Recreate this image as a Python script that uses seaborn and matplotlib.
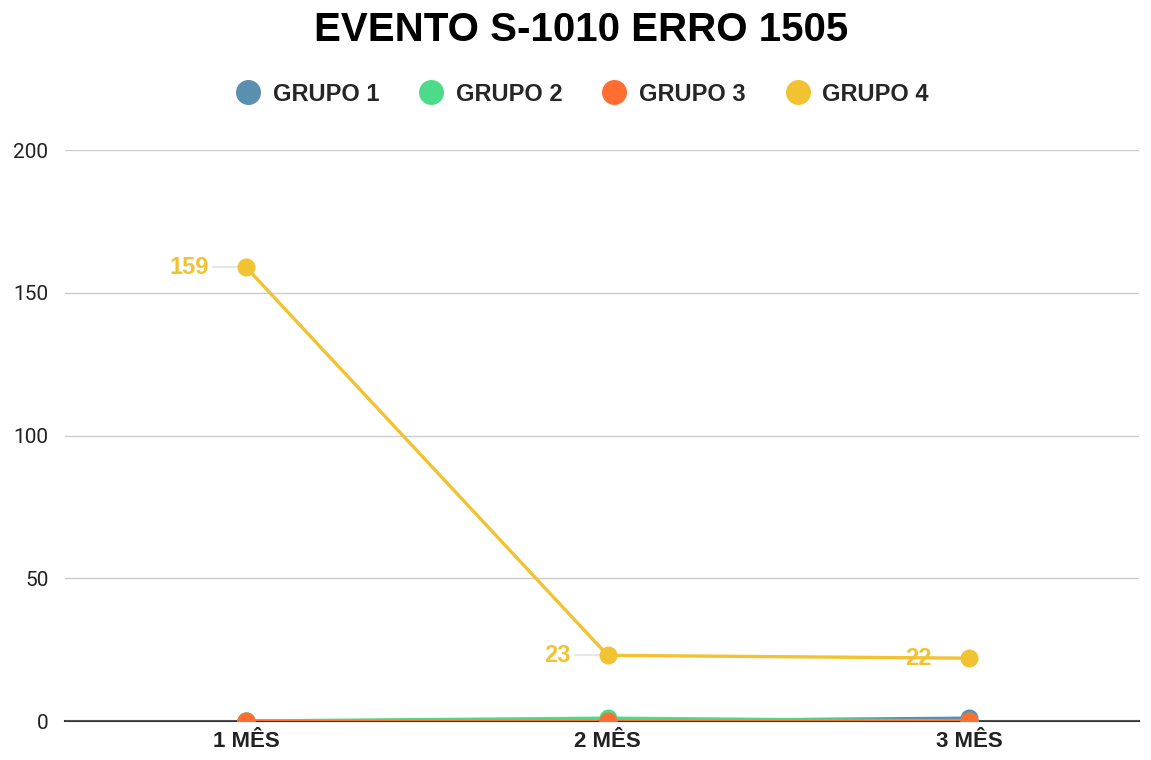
import pandas as pd
import seaborn as sns
import numpy as np
import matplotlib.pyplot as plt
from matplotlib.lines import Line2D

months = ['1 MÊS', '2 MÊS', '3 MÊS']
grupo_1 = [0, 0, 1]
grupo_2 = [0, 1, 0]
grupo_3 = [0, 0, 0]
grupo_4 = [159, 23, 22]
groups = ['GRUPO 1', 'GRUPO 2', 'GRUPO 3', 'GRUPO 4']
colors = ['#5b8fb0', '#4ddb8a', '#ff6d31', '#f1c232']

rows = []
for g, vals in zip(groups, [grupo_1, grupo_2, grupo_3, grupo_4]):
    for i, (m, v) in enumerate(zip(months, vals)):
        rows.append({'mes': m, 'pos': i, 'grupo': g, 'valor': v})
df = pd.DataFrame(rows)

sns.set_style('white')
plt.rcParams['font.family'] = ['Liberation Sans', 'DejaVu Sans']

fig = plt.figure(figsize=(11.51, 7.6), dpi=100)
ax = fig.add_axes([0.0565, 0.0513, 0.9335, 0.7513])

sns.lineplot(data=df, x='pos', y='valor', hue='grupo', palette=colors,
             marker='o', markersize=13, markeredgewidth=0, linewidth=2.4,
             legend=False, ax=ax)

# data labels for grupo 4
for i, v in enumerate(grupo_4):
    ax.plot([i - 0.09, i], [v, v], color='#e6e6e6', lw=1.5, zorder=1)
    ax.annotate(str(v), (i, v), xytext=(-27, 0), textcoords='offset points',
                ha='right', va='center', fontsize=17, fontweight='bold',
                color='#f1c232')

ax.set_xlim(-0.5, 2.47)
ax.set_ylim(0, 200)
ax.set_yticks(np.arange(0, 201, 50))
ax.set_xticks(range(len(months)))
ax.set_xticklabels(months, fontsize=16, fontweight='bold', color='#222222')
for lab in ax.get_yticklabels():
    lab.set_family(['Roboto', 'DejaVu Sans'])
ax.tick_params(axis='y', labelsize=15, length=0, pad=12, labelcolor='#222222')
ax.tick_params(axis='x', length=0, pad=7)
ax.set_xlabel('')
ax.set_ylabel('')
ax.grid(axis='y', color='#cccccc', linewidth=1)
for s in ['top', 'right', 'left']:
    ax.spines[s].set_visible(False)
ax.spines['bottom'].set_color('#333333')
ax.spines['bottom'].set_linewidth(1.5)
ax.spines['bottom'].set_zorder(0)

handles = [Line2D([], [], marker='o', linestyle='', markersize=18,
                  markerfacecolor=c, markeredgewidth=0) for c in colors]
fig.legend(handles, groups, loc='center', bbox_to_anchor=(0.505, 0.876),
           ncol=4, frameon=False, handlelength=1.2, handletextpad=0.45,
           columnspacing=1.6, prop={'weight': 'bold', 'size': 17})

fig.suptitle('EVENTO S-1010 ERRO 1505', fontsize=29, fontweight='bold',
             x=0.505, y=0.985, color='black')

plt.savefig('out.png', dpi=100)
